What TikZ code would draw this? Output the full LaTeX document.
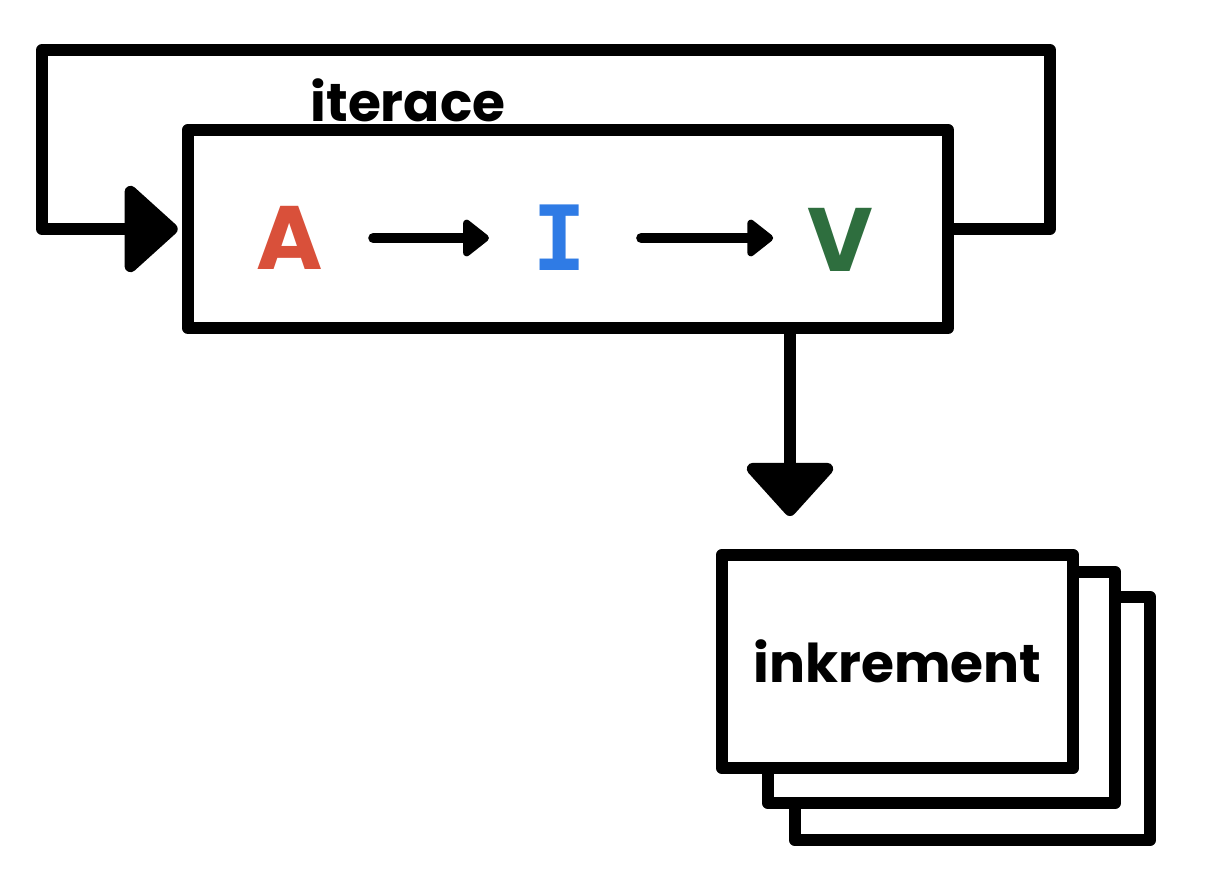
\documentclass[tikz,border=0pt]{standalone}
\usepackage{fontspec}
\setmainfont{Poppins}
\newfontfamily\barfont{DejaVu Sans Mono}
\usetikzlibrary{arrows.meta,positioning,calc}
\definecolor{stepred}{HTML}{D9503A}
\definecolor{stepblue}{HTML}{2F7BE5}
\definecolor{stepgreen}{HTML}{2E6E3E}

\begin{document}
\begin{tikzpicture}[x=0.025cm, y=-0.025cm, line width=8.5pt, line join=round, line cap=round,
    box/.style={draw, line width=8.5pt, fill=white, inner sep=0pt},
    letter/.style={inner sep=0pt, font=\fontsize{64}{64}\selectfont\bfseries},
    handtext/.style={inner sep=0pt, font=\fontsize{38}{38}\selectfont\bfseries},
    bigtip/.style={-{Triangle[length=40pt,width=70pt,round]}},
    smalltip/.style={line width=7pt, -{Triangle[length=20pt,width=30pt,round]}}]
    \useasboundingbox (0,0) rectangle (1210,870);

    % AIV loop
    \node[box, minimum width=19cm, minimum height=4.95cm] (loop) at (568,229) {};
    \node[letter, text=stepred] (A) at (290,238) {A};
    \node[letter, text=stepblue, font=\fontsize{64}{64}\barfont\bfseries] (I) at (560,238) {I};
    \node[letter, text=stepgreen] (V) at (840,240) {V};
    \draw[smalltip, shorten <=1.1cm, shorten >=0.95cm] (A.east) -- (A.east -| I.west);
    \draw[smalltip, shorten <=1.2cm, shorten >=0.7cm] (I.east) -- (I.east -| V.west);

    % Iteration back edge
    \coordinate (ne) at (1050,50);
    \coordinate (nw) at (42,50);
    \draw[bigtip, shorten >=3pt] (loop.east) -| (ne) -- (nw) |- (loop.west);
    \node[handtext] (itlabel) at (408,100) {iterace};

    % Increments (stack of cards)
    \node[box, minimum width=8.88cm, minimum height=6.08cm] (back) at (972.5,718.5) {};
    \node[box, minimum width=8.68cm, minimum height=5.78cm] (middle) at (941.5,687.5) {};
    \node[box, minimum width=8.78cm, minimum height=5.33cm, handtext] (front) at (897.5,661.5) {inkrement};

    \coordinate (drop) at (790,516);
    \draw[bigtip] (loop.south -| drop) -- (drop);
\end{tikzpicture}
\end{document}
